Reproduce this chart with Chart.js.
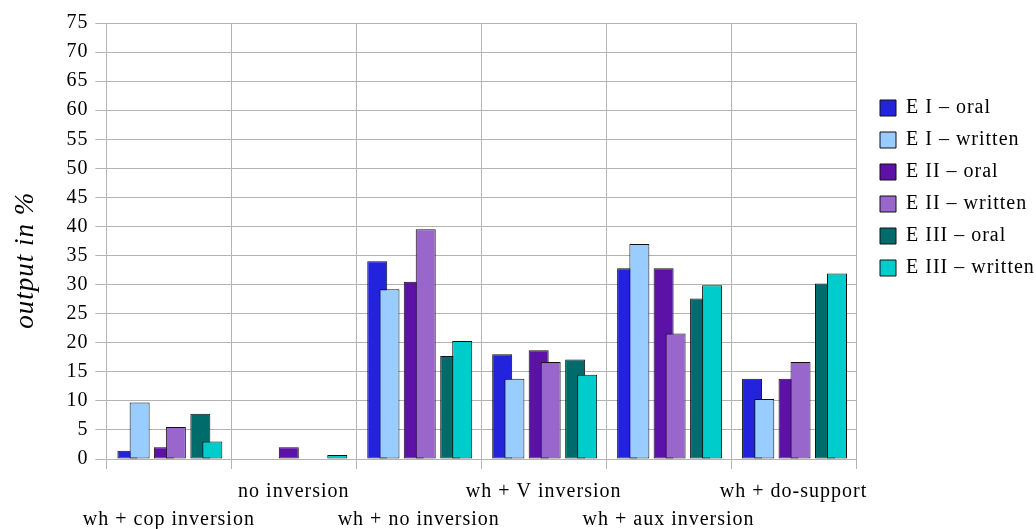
<!DOCTYPE html>
<html>
<head>
<meta charset="utf-8">
<script src="https://cdn.jsdelivr.net/npm/chart.js@4/dist/chart.umd.min.js"></script>
<style>
  html, body { margin: 0; padding: 0; background: #fff; }
  #wrap { width: 1036px; height: 529px; }
</style>
</head>
<body>
<div id="wrap"><canvas id="inversionChart"></canvas></div>
<script>
// categories (two label rows, staggered like the original)
const categories = ['wh + cop inversion', 'no inversion', 'wh + no inversion',
                    'wh + V inversion', 'wh + aux inversion', 'wh + do-support'];
const yTicks = [0, 75, 5];

// output in %
const eIOral       = [1.4, 0, 34.0, 18.0, 32.8, 13.8];
const eIWritten    = [9.7, 0, 29.2, 13.8, 37.0, 10.3];
const eIIOral      = [2.0, 2.0, 30.5, 18.7, 32.8, 13.8];
const eIIWritten   = [5.5, 0, 39.5, 16.7, 21.6, 16.7];
const eIIIOral     = [7.8, 0, 17.7, 17.1, 27.6, 30.2];
const eIIIWritten  = [3.0, 0.7, 20.3, 14.5, 29.9, 31.9];

const serif = '"Liberation Serif", "Times New Roman", serif';
const gridGrey = '#b3b3b3';

function pts(values) {
    return values.map(function (v, i) { return { x: i, y: v }; });
}

// each series has its own hidden x axis, nudged inside the category
// (oral/written pairs overlap, written drawn on top)
function series(label, values, color, axis, order) {
    return {
        label: label,
        data: pts(values),
        xAxisID: axis,
        backgroundColor: color,
        borderColor: '#111',
        borderWidth: 1,
        borderSkipped: false,
        order: order,
        grouped: false,
        maxBarThickness: 20
    };
}

function hiddenAxis(shift) {
    return {
        type: 'linear',
        display: false,
        offset: false,
        bounds: 'data',
        min: -0.5 - shift,
        max: categories.length - 0.5 - shift,
        afterBuildTicks: function (axis) {
            axis.ticks = categories.map(function (c, i) { return { value: i }; });
        }
    };
}

// the original text is set a little wide
const wideText = {
    id: 'wideText',
    beforeLayout: function (chart) { chart.ctx.letterSpacing = '1px'; },
    beforeDraw: function (chart) { chart.ctx.letterSpacing = '1px'; }
};

const ctx = document.getElementById('inversionChart').getContext('2d');

new Chart(ctx, {
    type: 'bar',
    data: {
        labels: categories.map(function (c, i) {
            return i % 2 === 0 ? ['', c] : [c, ''];
        }),
        datasets: [
            series('E I – oral', eIOral, '#2323dc', 'x1', 2),
            series('E I – written', eIWritten, '#99ccff', 'x2', 1),
            series('E II – oral', eIIOral, '#5c12a6', 'x3', 2),
            series('E II – written', eIIWritten, '#9966cc', 'x4', 1),
            series('E III – oral', eIIIOral, '#006b6b', 'x5', 2),
            series('E III – written', eIIIWritten, '#00cccc', 'x6', 1)
        ]
    },
    plugins: [wideText],
    options: {
        responsive: true,
        maintainAspectRatio: false,
        animation: false,
        layout: {
            padding: { top: 23, right: -4, bottom: -14, left: 8 }
        },
        plugins: {
            legend: {
                position: 'right',
                align: 'start',
                title: {
                    display: true,
                    text: '',
                    padding: { top: 53, bottom: 0 },
                    font: { size: 10, lineHeight: 1 }
                },
                labels: {
                    boxWidth: 16,
                    boxHeight: 16,
                    padding: 12,
                    color: '#000',
                    font: { family: serif, size: 20 },
                    sort: function (a, b) { return a.datasetIndex - b.datasetIndex; }
                }
            },
            tooltip: { enabled: false }
        },
        scales: {
            x: {
                type: 'category',
                offset: true,
                grid: {
                    offset: true,
                    color: gridGrey,
                    tickLength: 10
                },
                border: { color: gridGrey },
                ticks: {
                    autoSkip: false,
                    maxRotation: 0,
                    minRotation: 0,
                    padding: 9,
                    color: '#000',
                    font: { family: serif, size: 20, lineHeight: 1.4 }
                }
            },
            x1: hiddenAxis(-0.332),
            x2: hiddenAxis(-0.234),
            x3: hiddenAxis(-0.04),
            x4: hiddenAxis(0.056),
            x5: hiddenAxis(0.252),
            x6: hiddenAxis(0.348),
            y: {
                min: yTicks[0],
                max: yTicks[1],
                grid: { color: gridGrey, tickLength: 11 },
                border: { color: gridGrey },
                ticks: {
                    stepSize: yTicks[2],
                    padding: 7,
                    color: '#000',
                    font: { family: serif, size: 20 }
                },
                title: {
                    display: true,
                    text: 'output in %\u00a0\u00a0\u00a0\u00a0\u00a0',
                    color: '#000',
                    padding: { top: 2, bottom: 17 },
                    font: { family: serif, size: 27, style: 'italic', lineHeight: 1.2 }
                }
            },
            // empty strip between plot and legend
            gap: {
                type: 'linear',
                position: 'right',
                min: 0,
                max: 1,
                grid: { display: false },
                border: { display: false },
                ticks: { display: false },
                afterFit: function (scale) { scale.width = 12; }
            }
        }
    }
});
</script>
</body>
</html>
